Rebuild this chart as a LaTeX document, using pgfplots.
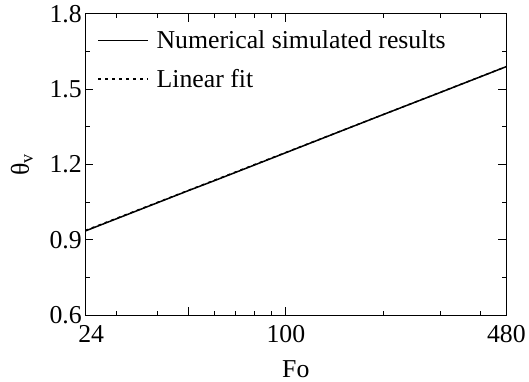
\documentclass[border=0pt]{standalone}
\usepackage{pgfplots}
\pgfplotsset{compat=1.18}
\usepackage{fontspec}
\setmainfont{Liberation Serif}
\begin{document}
\begin{tikzpicture}
\begin{axis}[
  name=ax,
  scale only axis,
  width=425pt, height=304pt,
  xmode=log,
  xmin=24, xmax=480,
  ymin=0.6, ymax=1.8,
  xtick={24,50,100,480},
  xticklabels={\hspace{12pt}24,,100,480\hspace{12pt}},
  minor xtick={30,40,60,70,80,90,200,300,400},
  ytick={0.6,0.9,1.2,1.5,1.8},
  yticklabels={0.6,0.9,1.2,1.5,1.8},
  minor ytick={0.75,1.05,1.35,1.65},
  tick align=inside,
  major tick length=8pt,
  minor tick length=4.5pt,
  every tick/.style={black, line width=0.8pt},
  axis line style={line width=0.9pt},
  font=\fontsize{26}{31}\selectfont,
  /pgf/number format/assume math mode=true,
  xticklabel style={yshift=-7pt},
  xlabel={Fo},
  xlabel style={at={(axis description cs:0.5,-0.178)}, anchor=center, inner sep=0pt},
  legend style={at={(axis description cs:0.022,0.957)}, anchor=north west, draw=none, fill=none,
    row sep=15pt, font=\fontsize{26}{31}\selectfont},
  legend cell align=left,
  legend image code/.code={\draw[#1] (0pt,0pt) -- (50pt,0pt); \path (56pt,0pt);},
]
\addplot[black, line width=1.5pt] coordinates {
(24,0.935) (30,0.984) (40,1.047) (50,1.096) (60,1.135) (80,1.198) (100,1.247)
(150,1.336) (200,1.399) (300,1.487) (400,1.550) (480,1.590)};
\addlegendentry{Numerical simulated results}
\addplot[black, line width=1.5pt, dash pattern=on 3pt off 4pt] coordinates {
(24,0.937) (480,1.590)};
\addlegendentry{Linear fit}
\end{axis}
\node[rotate=89.9, anchor=center, font=\fontsize{26}{31}\selectfont] at ([xshift=-64pt]ax.west) {θ\textsubscript{v}};
\path ([xshift=-86pt,yshift=-67pt]ax.south west) rectangle ++(529pt,385pt);
\end{tikzpicture}
\end{document}
